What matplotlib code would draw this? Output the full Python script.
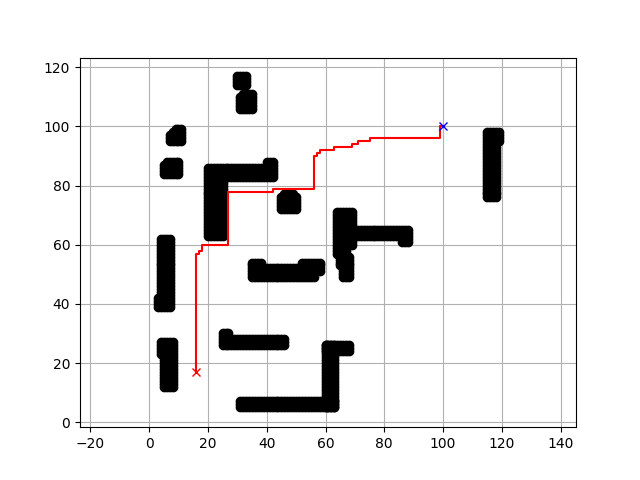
import numpy as np
import matplotlib
matplotlib.use("Agg")
from matplotlib import pyplot as plt

# obstacle blocks: x_min, x_max, y_min, y_max (grid cells, inclusive)
obstacles = [
    (30, 33, 114, 117),
    (31, 35, 106, 110), (32, 35, 111, 111),
    (7, 11, 95, 97), (8, 11, 98, 98), (9, 11, 99, 99),
    (6, 10, 84, 88), (5, 5, 84, 87),
    (20, 42, 83, 86), (40, 42, 87, 88), (20, 25, 63, 82),
    (45, 50, 72, 76), (46, 49, 77, 77),
    (4, 7, 39, 62), (3, 3, 39, 42),
    (5, 8, 12, 22), (4, 8, 23, 27),
    (35, 56, 49, 52), (35, 38, 53, 54), (52, 58, 51, 54),
    (25, 46, 26, 28), (25, 27, 29, 30),
    (60, 63, 5, 26), (60, 68, 24, 26), (31, 63, 5, 7),
    (64, 69, 60, 71), (64, 67, 57, 59), (65, 68, 53, 56), (66, 68, 49, 52),
    (70, 88, 63, 65), (86, 88, 61, 62),
    (115, 118, 76, 94), (115, 119, 95, 98),
]

# path found by the planner
path_x = [16, 16, 17, 17, 18, 18, 27, 27, 42, 42, 56, 56, 57, 57, 58, 58,
          63, 63, 69, 69, 71, 71, 75, 75, 99, 99, 100]
path_y = [17, 57, 57, 58, 58, 60, 60, 78, 78, 79, 79, 90, 90, 91, 91, 92,
          92, 93, 93, 94, 94, 95, 95, 96, 96, 100, 100]

sx, sy = 16, 17
gx, gy = 100, 100

ox, oy = [], []
for x0, x1, y0, y1 in obstacles:
    for i in range(x0, x1 + 1):
        for j in range(y0, y1 + 1):
            ox.append(i)
            oy.append(j)

plt.figure(figsize=(6.4, 4.8), dpi=100)
plt.plot(ox, oy, "ok")
plt.plot(path_x, path_y, "-r")
plt.plot(sx, sy, "xr")
plt.plot(gx, gy, "xb")
plt.grid(True)
plt.xlim(-23.5, 145.2)
plt.ylim(-1.7, 123.3)
plt.savefig("out.png")
